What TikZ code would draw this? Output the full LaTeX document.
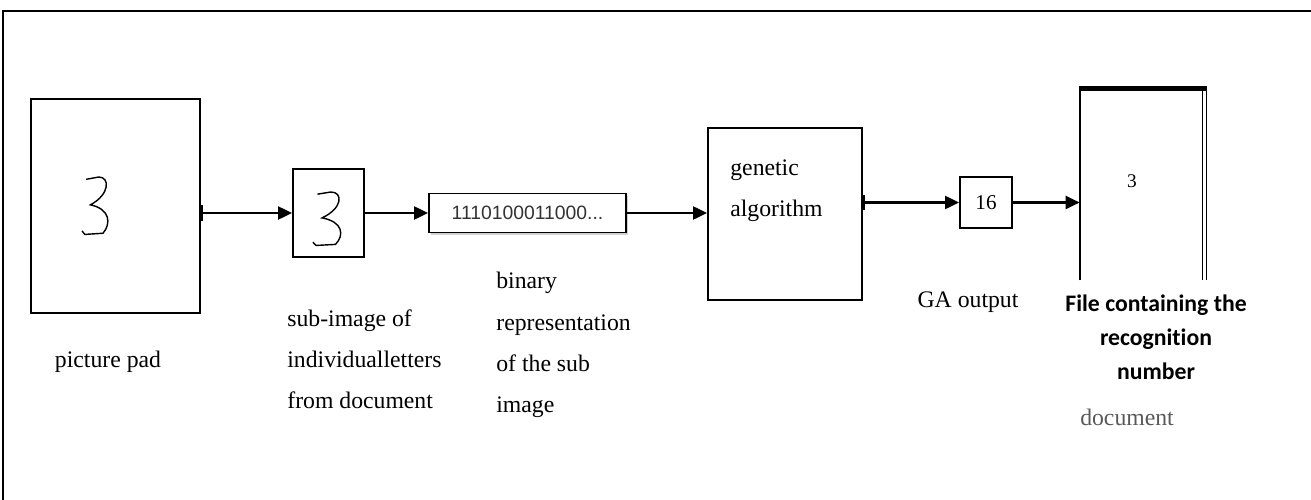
\documentclass[tikz,border=0pt]{standalone}
\usepackage{fontspec}
\setmainfont{Liberation Serif}
\newfontfamily\carlito[Ligatures=NoCommon]{Carlito}
\newfontfamily\sansf{Liberation Sans}
\usetikzlibrary{arrows.meta,shadows}

\begin{document}
\begin{tikzpicture}[x=0.02cm,y=-0.02cm,
    box/.style={draw,line width=1.1pt,inner sep=0pt},
    lbl/.style={font=\fontsize{13.5}{23.5}\selectfont,align=left,inner sep=0pt},
    flow/.style={line width=1.3pt,-{Triangle[length=0.28cm,width=0.26cm]}},
    barflow/.style={line width=1.3pt,{Bar[width=0.32cm,line width=0.9pt]}-{Triangle[length=0.28cm,width=0.26cm]}},
    handthree/.pic={\draw[line width=0.8pt] (0.15,0.04) -- (0.6,0) .. controls (1,0) and (1,0.3) .. (0.3,0.48) .. controls (1,0.55) and (1.05,0.8) .. (0.75,0.97) -- (0.1,0.99) -- (0,0.93);}]
        \useasboundingbox (0,0) rectangle (1311,500);
        \draw[line width=1.1pt] (3,500) -- (3,11) -- (1311,11);
        % boxes
        \node[box,minimum width=3.38cm,minimum height=4.28cm] (pad) at (115.5,206) {};
        \node[box,minimum width=1.42cm,minimum height=1.76cm] (sub) at (328.5,213) {};
        \node[box,minimum width=3.94cm,minimum height=0.78cm,fill=white,
              drop shadow={shadow xshift=1pt,shadow yshift=-1.2pt,fill=gray!70},
              font=\sansf\fontsize{11}{13}\selectfont,text=black!80] (bin) at (527.5,213) {1110100011000...};
        \node[box,minimum width=3.08cm,minimum height=3.44cm] (ga) at (785,214) {};
        \node[box,minimum width=1.04cm,minimum height=1.02cm,font=\fontsize{12}{14}\selectfont] (out) at (986,202.5) {16};
        \node[minimum width=2.52cm,minimum height=3.82cm,inner sep=0pt] (doc) at (1143,184.5) {};
        \draw[line width=1.1pt] (doc.south west) -- (doc.north west);
        \draw[line width=2.5pt] ([xshift=-0.5pt]doc.north west) -- ([xshift=0.5pt]doc.north east);
        \draw[line width=0.8pt] (doc.north east) -- (doc.south east);
        \draw[line width=0.8pt] ([xshift=-0.08cm]doc.north east) -- ([xshift=-0.08cm]doc.south east);
        % handwritten digits
        \pic[xscale=28,yscale=58] at (82,177) {handthree};
        \pic[xscale=30,yscale=54] at (313,192) {handthree};
        \node[font=\fontsize{11}{12}\selectfont,inner sep=0pt] (docnum) at (1132,181) {3};
        \node[lbl,anchor=north west] (gatext) at (730,159) {genetic\\algorithm};
        % connectors
        \draw[barflow] (pad.east |- sub.west) -- (sub.west);
        \draw[flow] (sub.east) -- (bin.west);
        \draw[flow] (bin.east) -- (bin.east -| ga.west);
        \draw[barflow] (ga.east |- out.west) -- (out.west);
        \draw[flow] (out.east) -- (out.east -| doc.west);
        % captions
        \node[lbl,anchor=base] (padlbl) at (108,367) {picture pad};
        \node[lbl,anchor=north west] (sublbl) at (287,309) {sub-image of\\individualletters\\from document};
        \node[lbl,anchor=north west] (binlbl) at (496,272) {binary\\representation\\of the sub\\image};
        \node[lbl,anchor=base] (outlbl) at (968,307) {GA output};
        \node[font=\carlito\bfseries\fontsize{13.5}{19.3}\selectfont,align=center,inner sep=0pt,anchor=north] (filelbl) at (1156,295) {File containing the\\recognition\\number};
        \node[lbl,anchor=base,text=black!65] (doclbl) at (1127,425) {document};
\end{tikzpicture}
\end{document}
